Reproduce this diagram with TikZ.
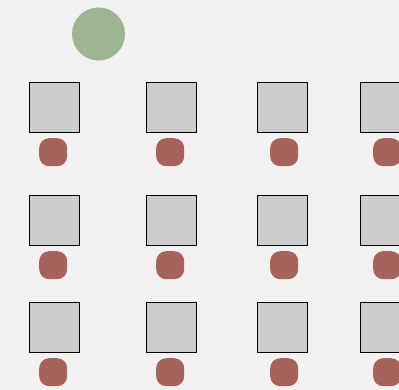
\documentclass[tikz,border=0pt]{standalone}
\usepackage{tikz}

\begin{document}
\begin{tikzpicture}[
  x=1pt,
  y=-1pt,
  desk/.style={draw=black, line width=0.6pt, fill=deskGray, minimum size=50pt, inner sep=0pt, anchor=north west},
  seat/.style={fill=seatRed, rounded corners=10pt, minimum size=28pt, inner sep=0pt, anchor=north west},
  teacher/.style={circle, fill=teacherGreen, minimum size=53pt, inner sep=0pt}
]

% Colors picked to match the room plan
\definecolor{bgRoom}{HTML}{F2F0F1}
\definecolor{deskGray}{HTML}{CCCCCC}
\definecolor{seatRed}{HTML}{A5635C}
\definecolor{teacherGreen}{HTML}{9DB590}

% Canvas
\clip (0,0) rectangle (399,390);
\fill[bgRoom] (0,0) rectangle (399,390);

% Teacher
\node[teacher] (T) at (98.5,34) {};

% Desks and seats: columns (desk x, seat x), rows (desk y)
\foreach \c/\dx/\sx in {1/29/39, 2/146/156, 3/257/270, 4/360/373} {
  \foreach \r/\dy in {1/82, 2/195, 3/302} {
    \node[desk] (D\r\c) at (\dx,\dy) {};
    \node[seat] (S\r\c) at (\sx,\dy+56) {};
  }
}

\end{tikzpicture}
\end{document}
